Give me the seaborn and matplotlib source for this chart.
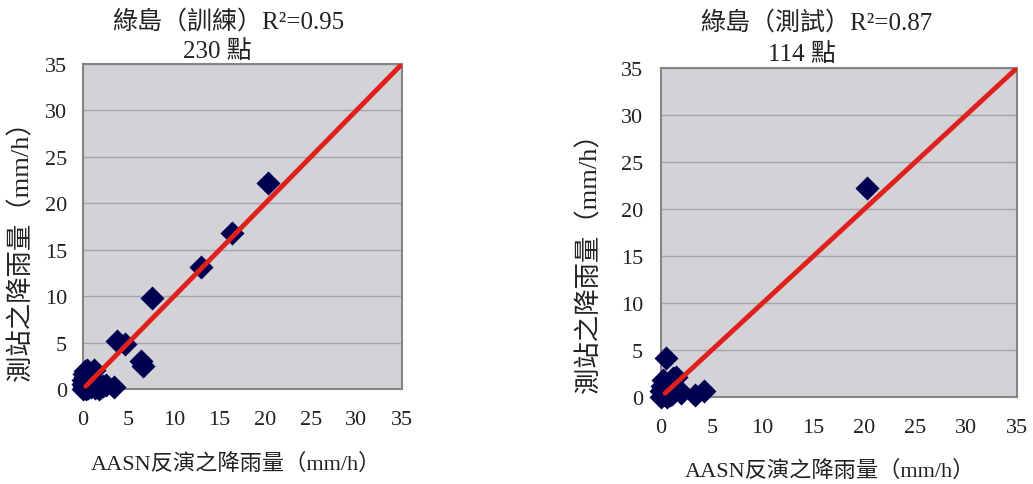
import matplotlib
matplotlib.use("Agg")
import matplotlib.pyplot as plt
import seaborn as sns
import pandas as pd

sns.set_theme(style="white")
plt.rcParams['font.family'] = ['Liberation Serif', 'Noto Sans CJK TC', 'DejaVu Sans']

# ---- data ----
train_x = [0, 0, 0, 0.1, 0.2, 0.3, 0.5, 0.8, 1.0, 1.2, 1.5, 0.2, 0.4, 0.6, 0.1, 0.3,
           0.9, 1.3, 1.8, 2.2, 2.5, 0.5, 0.7, 1.1, 3.4, 3.7, 4.6, 6.4, 6.6, 7.6,
           12.9, 16.4, 20.3]
train_y = [0, 0.5, 1.0, 1.6, 1.9, 0.2, 0.1, 0.4, 1.2, 2.1, 0.6, 1.3, 2.0, 0.8, 0.3, 0.0,
           0.2, 0.1, 0.0, 0.3, 0.4, 1.6, 1.1, 0.9, 0.2, 5.2, 4.8, 3.0, 2.5, 9.8,
           13.1, 16.8, 22.2]
test_x = [0, 0, 0.1, 0.2, 0.3, 0.5, 0.8, 1.0, 1.2, 1.5, 1.7, 0.4, 0.6, 0.2, 1.1, 0.9,
          2.0, 0.5, 3.3, 4.2, 20.3]
test_y = [0, 0.6, 1.2, 1.8, 0.3, 0.1, 0.5, 1.4, 2.0, 2.1, 0.9, 1.1, 0.0, 0.8, 0.3, 0.2,
          0.4, 4.2, 0.2, 0.6, 22.2]
train_line_x = [0.3, 35]
train_line_y = [0.3, 35]
test_line_x = [0.4, 35]
test_line_y = [0.4, 35]
ticks = [0, 5, 10, 15, 20, 25, 30, 35]

train_title = ["綠島（訓練）R²=0.95", "230 點"]
test_title = ["綠島（測試）R²=0.87", "114 點"]
xlabel = "AASN反演之降雨量（mm/h）"
ylabel = "測站之降雨量（mm/h）"

BG = '#d2d2d7'
NAVY = '#000050'
RED = '#e0201c'
TXT = '#222222'

fig = plt.figure(figsize=(10.33, 4.85), dpi=100)
W, H = 1033, 485

def make_axes(l, t, r, b):
    return fig.add_axes([l / W, 1 - b / H, (r - l) / W, (b - t) / H])

ax1 = make_axes(83, 65, 402, 390)
ax2 = make_axes(661, 69, 1017, 398)

panels = [
    (ax1, train_x, train_y, train_line_x, train_line_y, 11.5),
    (ax2, test_x, test_y, test_line_x, test_line_y, 13),
]
for ax, xs, ys, lx, ly, ypad in panels:
    ax.set_facecolor(BG)
    df = pd.DataFrame({'x': xs, 'y': ys})
    sns.scatterplot(data=df, x='x', y='y', ax=ax, marker='D', s=150, color=NAVY,
                    edgecolor=NAVY, linewidth=0, zorder=3, clip_on=False)
    ldf = pd.DataFrame({'x': lx, 'y': ly})
    sns.lineplot(data=ldf, x='x', y='y', ax=ax, color=RED, linewidth=3.5, zorder=4)
    ax.set_xlim(0, 35)
    ax.set_ylim(0, 35)
    ax.set_xticks(ticks)
    ax.set_yticks(ticks)
    ax.set_xlabel('')
    ax.set_ylabel('')
    ax.yaxis.grid(True, color='#a6a6a6', linewidth=1.0)
    ax.xaxis.grid(False)
    ax.set_axisbelow(True)
    for sp in ax.spines.values():
        sp.set_visible(True)
        sp.set_color('#858585')
        sp.set_linewidth(1.5)
    ax.tick_params(axis='x', direction='in', length=5, width=1, color='#858585',
                   labelsize=16, labelcolor=TXT, pad=15)
    ax.tick_params(axis='y', length=0, labelsize=16, labelcolor=TXT, pad=ypad)

# titles
fig.text(228 / W, 1 - 22 / H, train_title[0], ha='center', va='center', fontsize=18, color=TXT)
fig.text(217 / W, 1 - 52 / H, train_title[1], ha='center', va='center', fontsize=18, color=TXT)
fig.text(816 / W, 1 - 23 / H, test_title[0], ha='center', va='center', fontsize=18, color=TXT)
fig.text(802 / W, 1 - 55 / H, test_title[1], ha='center', va='center', fontsize=18, color=TXT)

# axis labels
fig.text(236 / W, 1 - 464 / H, xlabel, ha='center', va='center', fontsize=16, color=TXT)
fig.text(830 / W, 1 - 471 / H, xlabel, ha='center', va='center', fontsize=16, color=TXT)
fig.text(21 / W, 1 - 245 / H, ylabel, ha='center', va='center', rotation=90, fontsize=19, color=TXT)
fig.text(589 / W, 1 - 257 / H, ylabel, ha='center', va='center', rotation=90, fontsize=19, color=TXT)

fig.savefig('out.png', dpi=100)
